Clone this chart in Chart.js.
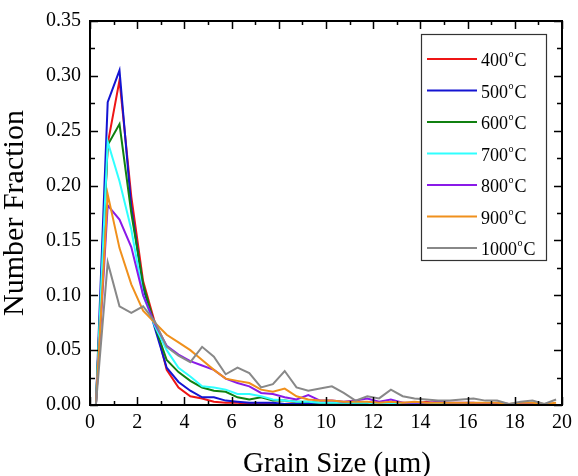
<!DOCTYPE html>
<html>
<head>
<meta charset="utf-8">
<script src="https://cdn.jsdelivr.net/npm/chart.js@4/dist/chart.umd.min.js"></script>
<style>
  html, body { margin: 0; padding: 0; background: #fff; }
  #wrap { width: 578px; height: 476px; }
</style>
</head>
<body>
<div id="wrap"><canvas id="myChart" width="578" height="476"></canvas></div>
<script>
// grain size bins (um)
const grainSize = [0.25, 0.75, 1.25, 1.75, 2.25, 2.75, 3.25, 3.75, 4.25, 4.75,
  5.25, 5.75, 6.25, 6.75, 7.25, 7.75, 8.25, 8.75, 9.25, 9.75,
  10.25, 10.75, 11.25, 11.75, 12.25, 12.75, 13.25, 13.75, 14.25, 14.75,
  15.25, 15.75, 16.25, 16.75, 17.25, 17.75, 18.25, 18.75, 19.25, 19.75];

const t400 = [0, 0.238, 0.296, 0.190, 0.113, 0.075, 0.032, 0.016, 0.008, 0.006,
  0.003, 0.002, 0.002, 0.001, 0.001, 0.001, 0.001, 0.002, 0.001, 0.001,
  0.001, 0.001, 0.002, 0.001, 0.001, 0.001, 0.002, 0.001, 0.003, 0.001,
  0.001, 0.001, 0.001, 0.001, 0.001, 0, 0.001, 0, 0, 0];
const t500 = [0, 0.276, 0.305, 0.180, 0.107, 0.070, 0.034, 0.021, 0.013, 0.007,
  0.007, 0.004, 0.003, 0.002, 0.002, 0.002, 0.001, 0.001, 0.002, 0.001,
  0.001, 0.001, 0.001, 0.001, 0.001, 0.001, 0.001, 0, 0.001, 0,
  0, 0.001, 0, 0, 0, 0, 0, 0, 0, 0];
const t600 = [0, 0.237, 0.256, 0.175, 0.110, 0.072, 0.041, 0.030, 0.022, 0.016,
  0.013, 0.012, 0.007, 0.005, 0.007, 0.004, 0.004, 0.003, 0.003, 0.002,
  0.002, 0.002, 0.002, 0.002, 0.001, 0.001, 0.001, 0.001, 0.001, 0.001,
  0.001, 0, 0.001, 0, 0, 0, 0, 0, 0, 0];
const t700 = [0, 0.240, 0.204, 0.160, 0.100, 0.072, 0.050, 0.034, 0.026, 0.017,
  0.016, 0.014, 0.010, 0.010, 0.008, 0.005, 0.004, 0.003, 0.003, 0.002,
  0.002, 0.002, 0.002, 0.002, 0.001, 0.001, 0.001, 0.001, 0.001, 0.001,
  0.001, 0.001, 0, 0.001, 0, 0, 0, 0, 0, 0];
const t800 = [0, 0.182, 0.169, 0.144, 0.100, 0.074, 0.054, 0.046, 0.040, 0.036,
  0.032, 0.024, 0.020, 0.017, 0.011, 0.010, 0.007, 0.005, 0.009, 0.004,
  0.004, 0.003, 0.004, 0.006, 0.003, 0.005, 0.002, 0.002, 0.002, 0.003,
  0.002, 0.002, 0.002, 0.001, 0.002, 0.001, 0.001, 0.001, 0, 0];
const t900 = [0, 0.192, 0.143, 0.110, 0.086, 0.075, 0.064, 0.057, 0.050, 0.041,
  0.032, 0.024, 0.022, 0.020, 0.014, 0.012, 0.015, 0.008, 0.005, 0.004,
  0.004, 0.003, 0.003, 0.003, 0.002, 0.003, 0.002, 0.003, 0.002, 0.002,
  0.002, 0.002, 0.002, 0.002, 0.002, 0.001, 0.002, 0.002, 0.001, 0.002];
const t1000 = [0, 0.130, 0.090, 0.084, 0.090, 0.076, 0.053, 0.045, 0.039, 0.053,
  0.044, 0.028, 0.034, 0.029, 0.016, 0.019, 0.031, 0.016, 0.013, 0.015,
  0.017, 0.011, 0.004, 0.008, 0.006, 0.014, 0.008, 0.006, 0.005, 0.004,
  0.004, 0.005, 0.006, 0.004, 0.004, 0.001, 0.003, 0.004, 0.001, 0.005];

const temps = ['400', '500', '600', '700', '800', '900', '1000'];
const series = [t400, t500, t600, t700, t800, t900, t1000];
const colors = ['#ee1515', '#1414d2', '#108010', '#30ffff', '#8a1ae8', '#f0901c', '#888888'];

const xTitle = 'Grain Size (μm)';
const serif = "'Liberation Serif', 'DejaVu Serif', serif";

// ticks, box, x title and legend drawn on top
const frame = {
  id: 'frame',
  afterDraw(chart) {
    const c = chart.ctx;
    const a = chart.chartArea;
    const xs = chart.scales.x, ys = chart.scales.y;
    c.save();
    c.strokeStyle = '#000';
    c.lineWidth = 1.5;
    c.beginPath();
    for (let v = 0; v <= 20; v++) {
      const px = Math.round(xs.getPixelForValue(v)) + 0.5;
      const len = v % 2 === 0 ? 8 : 4;
      c.moveTo(px, a.bottom); c.lineTo(px, a.bottom - len);
      c.moveTo(px, a.top); c.lineTo(px, a.top + len);
    }
    for (let i = 0; i <= 14; i++) {
      const py = Math.round(ys.getPixelForValue(i * 0.025)) + 0.5;
      const len = i % 2 === 0 ? 8 : 5;
      c.moveTo(a.left, py); c.lineTo(a.left + len, py);
      c.moveTo(a.right, py); c.lineTo(a.right - len, py);
    }
    c.stroke();
    c.lineWidth = 2;
    c.strokeRect(a.left, a.top, a.right - a.left, a.bottom - a.top);

    // x axis title (sits a bit right of the plot centre in the original)
    c.fillStyle = '#000';
    c.font = '29px ' + serif;
    c.textAlign = 'center';
    c.textBaseline = 'alphabetic';
    c.fillText(xTitle, 337, 472);

    // legend
    const lx = 421.5, ly = 34.5, lw = 125, lh = 226;
    c.fillStyle = '#fff';
    c.fillRect(lx, ly, lw, lh);
    c.lineWidth = 1.2;
    c.strokeStyle = '#333';
    c.strokeRect(lx, ly, lw, lh);
    c.textAlign = 'left';
    temps.forEach((t, i) => {
      const y = 59 + i * 31.5;
      c.strokeStyle = colors[i];
      c.lineWidth = 2;
      c.beginPath();
      c.moveTo(427, y); c.lineTo(477, y);
      c.stroke();
      c.fillStyle = '#000';
      c.font = '18px ' + serif;
      c.fillText(t, 481, y + 7);
      let w = c.measureText(t).width;
      c.font = '10px ' + serif;
      c.fillText('o', 481 + w + 0.5, y - 2);
      const ow = c.measureText('o').width;
      c.font = '18px ' + serif;
      c.fillText('C', 481 + w + ow + 1.5, y + 7);
    });
    c.restore();
  }
};

const ctx = document.getElementById('myChart').getContext('2d');
const myChart = new Chart(ctx, {
  type: 'line',
  data: {
    datasets: series.map((s, i) => ({
      label: temps[i] + '°C',
      data: s.map((v, j) => ({ x: grainSize[j], y: v })),
      borderColor: colors[i],
      borderWidth: 2,
      pointRadius: 0,
      fill: false,
      tension: 0,
      order: 6 - i
    }))
  },
  options: {
    responsive: false,
    animation: false,
    layout: { padding: { top: 19, right: 13, left: 0, bottom: 0 } },
    plugins: { legend: { display: false }, tooltip: { enabled: false } },
    scales: {
      x: {
        type: 'linear',
        min: 0,
        max: 20,
        afterFit: (s) => { s.height = 71; },
        grid: { display: false, drawTicks: false },
        border: { display: false },
        ticks: { stepSize: 2, padding: 6, color: '#000', font: { family: serif, size: 20 } }
      },
      y: {
        min: 0,
        max: 0.35,
        afterFit: (s) => { s.width = 90; },
        grid: { display: false, drawTicks: false },
        border: { display: false },
        ticks: { stepSize: 0.05, padding: 9, color: '#000', font: { family: serif, size: 20 },
          callback: (v) => v.toFixed(2) },
        title: { display: true, text: 'Number Fraction', color: '#000', padding: 0,
          font: { family: serif, size: 30, lineHeight: 1 } }
      }
    }
  },
  plugins: [frame]
});
</script>
</body>
</html>
